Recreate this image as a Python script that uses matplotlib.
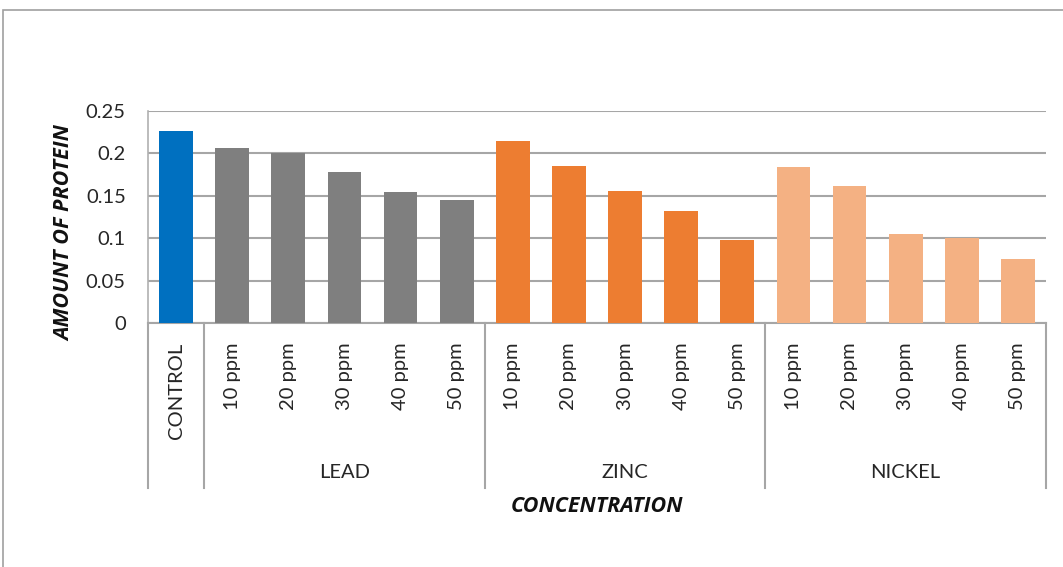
import matplotlib
matplotlib.use("Agg")
import matplotlib.pyplot as plt
from matplotlib.patches import Rectangle
from matplotlib.transforms import blended_transform_factory

plt.rcParams['font.family'] = ['Lato', 'DejaVu Sans']

# data
groups = ["", "LEAD", "ZINC", "NICKEL"]
doses = ["10 ppm", "20 ppm", "30 ppm", "40 ppm", "50 ppm"]
control = [0.227]
lead = [0.206, 0.200, 0.178, 0.155, 0.145]
zinc = [0.215, 0.185, 0.156, 0.132, 0.098]
nickel = [0.1835, 0.1615, 0.105, 0.100, 0.076]

series = [control, lead, zinc, nickel]
colors = ["#0070C0", "#7F7F7F", "#ED7D31", "#F4B183"]
labels = ["CONTROL"] + doses * 3
yticks = [0, 0.05, 0.1, 0.15, 0.2, 0.25]

W, H = 1063, 567
fig = plt.figure(figsize=(W / 100, H / 100), dpi=100)

# outer chart frame
fig.patches.append(Rectangle((3 / W, -0.1), 1.2, 1 - 10 / H + 0.1,
                             transform=fig.transFigure, fill=False,
                             edgecolor="#A0A0A0", linewidth=1.2))

left, right, top, bottom = 148, 1046, 111, 323
ax = fig.add_axes([left / W, 1 - bottom / H, (right - left) / W, (bottom - top) / H])

pos = 0
starts = []
for vals, c in zip(series, colors):
    starts.append(pos)
    xs = list(range(pos, pos + len(vals)))
    ax.bar(xs, vals, width=0.6, color=c, zorder=3)
    pos += len(vals)

ax.set_xlim(-0.5, pos - 0.5)
ax.set_ylim(0, 0.25)
ax.set_yticks(yticks)
ax.set_yticklabels(["0", "0.05", "0.1", "0.15", "0.2", "0.25"])
ax.yaxis.grid(True, color="#A6A6A6", linewidth=1.5, zorder=0)
ax.set_axisbelow(True)

ax.set_xticks(range(pos))
ax.set_xticklabels(labels, rotation=90, va="top", ha="center")
ax.tick_params(axis="both", length=0, labelsize=14.5, colors="#262626")
ax.tick_params(axis="x", pad=14)
ax.tick_params(axis="y", pad=16)

ax.spines["top"].set_visible(False)
ax.spines["right"].set_visible(False)
ax.spines["left"].set_color("#B0B0B0")
ax.spines["left"].set_linewidth(1.2)
ax.spines["bottom"].set_color("#A6A6A6")
ax.spines["bottom"].set_linewidth(1.5)

# category axis separators and group labels
tr = blended_transform_factory(ax.transData, ax.transAxes)
sep_bottom = (bottom - 488) / (bottom - top)
edges = [s - 0.5 for s in starts] + [pos - 0.5]
for e in edges:
    ax.plot([e, e], [0, sep_bottom], transform=tr, color="#A6A6A6",
            linewidth=1.5, clip_on=False)
grp_y = (bottom - 472) / (bottom - top)
for g, s, vals in zip(groups, starts, series):
    if g:
        ax.text(s + (len(vals) - 1) / 2, grp_y, g, transform=tr, ha="center",
                va="center", fontsize=14.5, color="#262626")

title_font = dict(family=["Open Sans", "DejaVu Sans"], fontsize=15.5,
                  fontweight="bold", style="italic", color="#111111")
ax.text(0.5, (bottom - 506) / (bottom - top), "CONCENTRATION", transform=ax.transAxes,
        ha="center", va="center", **title_font)
fig.text(65 / W, 1 - 233 / H, "AMOUNT OF PROTEIN", rotation=90, ha="center",
         va="center", **title_font)

fig.savefig("out.png", dpi=100)
